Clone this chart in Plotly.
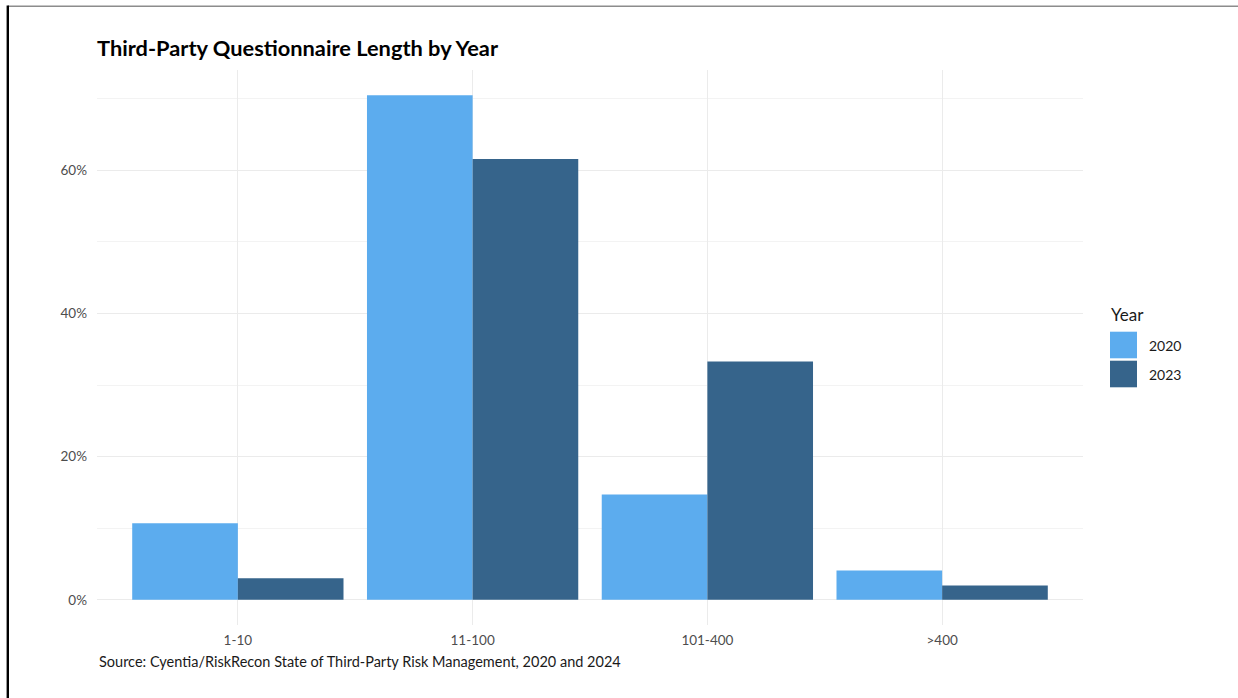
import plotly.graph_objects as go

categories = ["1-10", "11-100", "101-400", ">400"]
years = ["2020", "2023"]
values_2020 = [0.107, 0.705, 0.147, 0.041]
values_2023 = [0.030, 0.616, 0.333, 0.020]
colors = ["#5CACEE", "#36648B"]
ytick_vals = [0, 0.2, 0.4, 0.6]
yminor_vals = [0.1, 0.3, 0.5, 0.7]

title_text = "Third-Party Questionnaire Length by Year"
caption_text = "Source: Cyentia/RiskRecon State of Third-Party Risk Management, 2020 and 2024"
legend_title = "Year"

FONT = "Lato"
W, H = 1238, 698
L, R, T, B = 97, 155, 70, 73
PW, PH = W - L - R, H - T - B

def px_x(px):
    return (px - L) / PW

def px_y(py):
    return (H - B - py) / PH

fig = go.Figure()
for name, vals, col in zip(years, [values_2020, values_2023], colors):
    fig.add_trace(go.Bar(
        x=categories, y=vals, name=name,
        marker=dict(color=col, line=dict(width=0)),
        showlegend=False,
    ))

# custom legend (large square keys, ggplot-like)
shapes = []
annotations = []
key_top = 331.7
key_h = 26.6
key_step = 29.0
for i, (name, col) in enumerate(zip(years, colors)):
    y0 = key_top + i * key_step
    shapes.append(dict(type="rect", xref="paper", yref="paper",
                       x0=px_x(1110), x1=px_x(1137),
                       y0=px_y(y0 + key_h), y1=px_y(y0),
                       fillcolor=col, line=dict(width=0), layer="above"))
    annotations.append(dict(text=name, xref="paper", yref="paper",
                            x=px_x(1147), y=px_y(y0 + key_h / 2),
                            xanchor="left", yanchor="middle", showarrow=False,
                            font=dict(family=FONT, size=14, color="#1A1A1A")))
annotations.append(dict(text=legend_title, xref="paper", yref="paper",
                        x=px_x(1109), y=px_y(314),
                        xanchor="left", yanchor="middle", showarrow=False,
                        font=dict(family=FONT, size=17, color="#1A1A1A")))
annotations.append(dict(text=caption_text, xref="paper", yref="paper",
                        x=0, y=px_y(661), xanchor="left", yanchor="middle",
                        showarrow=False,
                        font=dict(family=FONT, size=14.5, color="#1A1A1A")))

# screenshot border lines
shapes.append(dict(type="line", xref="paper", yref="paper",
                   x0=px_x(8), x1=px_x(1240), y0=px_y(6.3), y1=px_y(6.3),
                   line=dict(color="#8C8C8C", width=1.6)))
shapes.append(dict(type="line", xref="paper", yref="paper",
                   x0=px_x(7.8), x1=px_x(7.8), y0=px_y(5.5), y1=px_y(702),
                   line=dict(color="#000000", width=2.4)))

fig.update_layout(
    width=W, height=H,
    margin=dict(l=L, r=R, t=T, b=B, pad=0),
    paper_bgcolor="white", plot_bgcolor="white",
    barmode="group", bargap=0.1, bargroupgap=0,
    title=dict(text="<b>" + title_text + "</b>", x=0, xref="paper", xanchor="left",
               y=1 - 48 / H, yref="container", yanchor="middle",
               font=dict(family=FONT, size=21.8, color="#000000")),
    font=dict(family=FONT),
    shapes=shapes,
    annotations=annotations,
    showlegend=False,
)
fig.update_xaxes(
    type="category", range=[-0.6, 3.6],
    showgrid=True, gridcolor="#EBEBEB", gridwidth=1.3,
    showline=False, zeroline=False, ticks="",
    ticklabelstandoff=5,
    tickfont=dict(family=FONT, size=13.5, color="#4D4D4D"),
)
fig.update_yaxes(
    range=[-0.03525, 0.7403],
    tickvals=ytick_vals, tickformat=".0%",
    showgrid=True, gridcolor="#EBEBEB", gridwidth=1.3,
    minor=dict(tickvals=yminor_vals, showgrid=True, gridcolor="#F3F3F3", gridwidth=1),
    showline=False, zeroline=False, ticks="",
    ticklabelstandoff=9,
    tickfont=dict(family=FONT, size=13.5, color="#4D4D4D"),
)

fig.write_html("out.html")
